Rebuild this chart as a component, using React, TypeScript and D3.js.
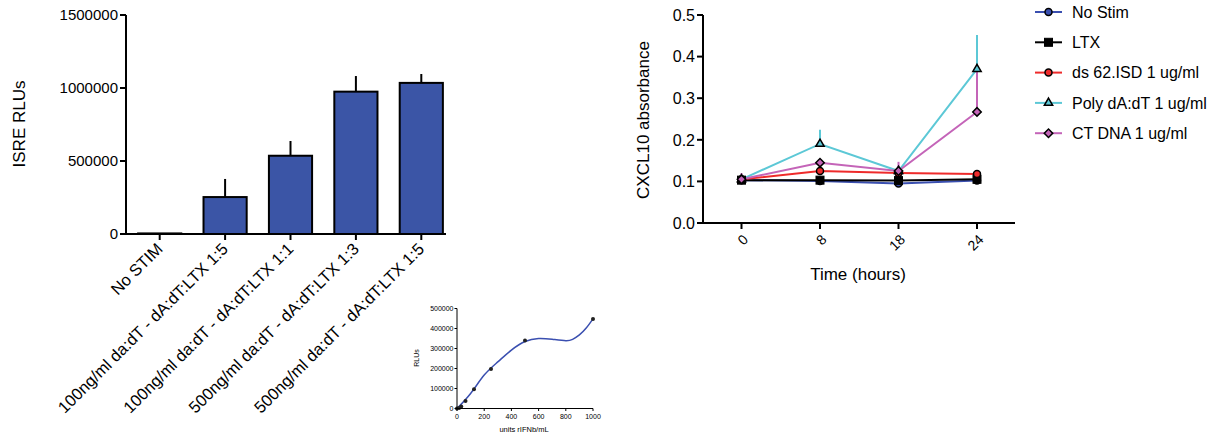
import React from "react";
import * as d3 from "d3";

// ---------- Chart 1: ISRE RLUs bar chart ----------
const barCategories = [
  "No STIM",
  "100ng/ml da:dT - dA:dT:LTX 1:5",
  "100ng/ml da:dT - dA:dT:LTX 1:1",
  "500ng/ml da:dT - dA:dT:LTX 1:3",
  "500ng/ml da:dT - dA:dT:LTX 1:5",
];
const barValues = [4000, 253000, 536000, 975000, 1035000];
const barErrorTops = [4000, 377000, 637000, 1082000, 1096000];
const barTicks = [0, 500000, 1000000, 1500000];

// ---------- Chart 2: CXCL10 absorbance ----------
const timeCategories = ["0", "8", "18", "24"];
const seriesNames = ["No Stim", "LTX", "ds 62.ISD 1 ug/ml", "Poly dA:dT 1 ug/ml", "CT DNA 1 ug/ml"];
const noStim = [0.103, 0.101, 0.095, 0.102];
const ltx = [0.103, 0.103, 0.102, 0.105];
const ds62 = [0.105, 0.125, 0.12, 0.118];
const polyDAdT = [0.105, 0.19, 0.125, 0.37];
const ctDNA = [0.105, 0.145, 0.125, 0.267];
const polyErrTop = [0.105, 0.224, 0.13, 0.452];
const ctErrTop = [0.12, 0.145, 0.147, 0.37];
const absTicks = [0.0, 0.1, 0.2, 0.3, 0.4, 0.5];

// ---------- Chart 3: standard curve ----------
const stdX = [0, 15.6, 31.25, 62.5, 125, 250, 500, 1000];
const stdY = [0, 3000, 10000, 38000, 96000, 198000, 340000, 448000];
const fitX = [0, 100, 200, 300, 400, 500, 600, 700, 800, 850, 900, 950, 1000];
const fitY = [0, 75000, 167000, 233000, 292000, 335000, 350000, 346000, 339000, 346000, 368000, 402000, 448000];
const stdXTicks = [0, 200, 400, 600, 800, 1000];
const stdYTicks = [0, 100000, 200000, 300000, 400000, 500000];

const FONT = "'Liberation Sans', Arial, Helvetica, sans-serif";
const BAR_BLUE = "#3B55A6";

function BarChart() {
  const x = d3.scaleBand<string>().domain(barCategories).range([127, 454]).paddingInner(0.34).paddingOuter(0.17);
  const y = d3.scaleLinear().domain([0, 1500000]).range([234, 15]);
  const axisX0 = 126;
  return (
    <g fontFamily={FONT}>
      {barCategories.map((c, i) => {
        const x0 = x(c)!;
        const cx = x0 + x.bandwidth() / 2;
        return (
          <g key={c}>
            <line x1={cx} x2={cx} y1={y(barValues[i])} y2={y(barErrorTops[i])} stroke="#000" strokeWidth={2} />
            <rect x={x0} y={y(barValues[i])} width={x.bandwidth()} height={y(0) - y(barValues[i])}
              fill={i === 0 ? "#fff" : BAR_BLUE} stroke="#000" strokeWidth={2} />
          </g>
        );
      })}
      <line x1={axisX0} x2={axisX0} y1={y(1500000)} y2={y(0) + 1} stroke="#000" strokeWidth={2} />
      <line x1={axisX0 - 1} x2={446} y1={y(0)} y2={y(0)} stroke="#000" strokeWidth={2} />
      {barTicks.map((t) => (
        <g key={t}>
          <line x1={axisX0 - 6} x2={axisX0} y1={y(t)} y2={y(t)} stroke="#000" strokeWidth={2} />
          <text x={axisX0 - 8} y={y(t)} dy="0.36em" textAnchor="end" fontSize={15} fill="#000">{t}</text>
        </g>
      ))}
      {barCategories.map((c) => {
        const cx = x(c)! + x.bandwidth() / 2;
        return (
          <g key={c}>
            <line x1={cx} x2={cx} y1={y(0)} y2={y(0) + 6} stroke="#000" strokeWidth={2} />
            <text transform={`translate(${cx + 4},${y(0) + 16}) rotate(-45)`} textAnchor="end" fontSize={16.5} fill="#000">{c}</text>
          </g>
        );
      })}
      <text transform={`translate(25,124) rotate(-90)`} textAnchor="middle" fontSize={17} fill="#000">ISRE RLUs</text>
    </g>
  );
}

function LineChart() {
  const x = d3.scalePoint<string>().domain(timeCategories).range([741.5, 977]);
  const y = d3.scaleLinear().domain([0, 0.5]).range([223, 15]);
  const colors = ["#3A4FB0", "#000000", "#EE2B2B", "#5CC8D6", "#C464B8"];
  const data = [noStim, ltx, ds62, polyDAdT, ctDNA];
  const shapes = ["circle", "square", "circle", "triangle", "diamond"];
  const fills = ["#3A4FB0", "#000000", "#EE2B2B", "#5CC8D6", "#C464B8"];
  const line = d3.line<number>().x((_, i) => x(timeCategories[i])!).y((v) => y(v));

  const marker = (shape: string, cx: number, cy: number, fill: string, key: string) => {
    if (shape === "circle") return <circle key={key} cx={cx} cy={cy} r={3.5} fill={fill} stroke="#000" strokeWidth={1.5} />;
    if (shape === "square") return <rect key={key} x={cx - 4} y={cy - 4} width={8} height={8} fill={fill} stroke="#000" strokeWidth={1} />;
    if (shape === "triangle") {
      const p = d3.symbol(d3.symbolTriangle, 30)();
      return <path key={key} d={p!} transform={`translate(${cx},${cy})`} fill={fill} stroke="#000" strokeWidth={1.5} />;
    }
    return <rect key={key} x={-3} y={-3} width={6} height={6} transform={`translate(${cx},${cy}) rotate(45)`} fill={fill} stroke="#000" strokeWidth={1.5} />;
  };

  return (
    <g fontFamily={FONT}>
      {polyErrTop.map((t, i) => (
        <line key={"pe" + i} x1={x(timeCategories[i])} x2={x(timeCategories[i])} y1={y(polyDAdT[i])} y2={y(t)} stroke={colors[3]} strokeWidth={2} />
      ))}
      {ctErrTop.map((t, i) => (
        <line key={"ce" + i} x1={x(timeCategories[i])} x2={x(timeCategories[i])} y1={y(ctDNA[i])} y2={y(t)} stroke={colors[4]} strokeWidth={2} />
      ))}
      {data.map((d, si) => (
        <path key={"l" + si} d={line(d)!} fill="none" stroke={colors[si]} strokeWidth={2} />
      ))}
      {data.map((d, si) =>
        d.map((v, i) => marker(shapes[si], x(timeCategories[i])!, y(v), fills[si], `m${si}-${i}`))
      )}
      <line x1={703} x2={703} y1={y(0.5)} y2={y(0) + 1} stroke="#000" strokeWidth={2} />
      <line x1={702} x2={1015} y1={y(0)} y2={y(0)} stroke="#000" strokeWidth={2} />
      {absTicks.map((t) => (
        <g key={t}>
          <line x1={697} x2={703} y1={y(t)} y2={y(t)} stroke="#000" strokeWidth={2} />
          <text x={695} y={y(t)} dy="0.36em" textAnchor="end" fontSize={16} fill="#000">{t.toFixed(1)}</text>
        </g>
      ))}
      {timeCategories.map((c) => (
        <g key={c}>
          <line x1={x(c)} x2={x(c)} y1={y(0)} y2={y(0) + 6} stroke="#000" strokeWidth={2} />
          <text transform={`translate(${x(c)! + 4},${y(0) + 14}) rotate(-45)`} textAnchor="end" dy="0.35em" fontSize={14} fill="#000">{c}</text>
        </g>
      ))}
      <text x={858} y={280} textAnchor="middle" fontSize={17} fill="#000">Time (hours)</text>
      <text transform={`translate(649,120) rotate(-90)`} textAnchor="middle" fontSize={17} fill="#000">CXCL10 absorbance</text>
      {seriesNames.map((n, i) => {
        const ly = 12 + i * 30.3;
        return (
          <g key={n}>
            <line x1={1035} x2={1062} y1={ly} y2={ly} stroke={colors[i]} strokeWidth={2} />
            {marker(shapes[i], 1048.5, ly, fills[i], "lg" + i)}
            <text x={1072} y={ly} dy="0.36em" fontSize={16} fill="#000">{n}</text>
          </g>
        );
      })}
    </g>
  );
}

function StdCurve() {
  const x = d3.scaleLinear().domain([0, 1000]).range([457, 593]);
  const y = d3.scaleLinear().domain([0, 500000]).range([408.5, 308.5]);
  const curve = d3.line<number>().x((_, i) => x(fitX[i])).y((v) => y(v)).curve(d3.curveNatural);
  return (
    <g fontFamily={FONT}>
      <path d={curve(fitY)!} fill="none" stroke="#3A4FB0" strokeWidth={1.5} />
      {stdX.map((v, i) => (
        <circle key={i} cx={x(v)} cy={y(stdY[i])} r={2} fill="#222" />
      ))}
      <line x1={457} x2={457} y1={308.5} y2={409} stroke="#000" strokeWidth={1} />
      <line x1={456.5} x2={593} y1={408.5} y2={408.5} stroke="#000" strokeWidth={1} />
      {stdYTicks.map((t) => (
        <g key={t}>
          <line x1={454.5} x2={457} y1={y(t)} y2={y(t)} stroke="#000" strokeWidth={1} />
          <text x={453.5} y={y(t)} dy="0.36em" textAnchor="end" fontSize={7} fill="#000">{t}</text>
        </g>
      ))}
      {stdXTicks.map((t) => (
        <g key={t}>
          <line x1={x(t)} x2={x(t)} y1={408.5} y2={411} stroke="#000" strokeWidth={1} />
          <text x={x(t)} y={419} textAnchor="middle" fontSize={7} fill="#000">{t}</text>
        </g>
      ))}
      <text transform={`translate(419,358) rotate(-90)`} textAnchor="middle" fontSize={7} fill="#000">RLUs</text>
      <text x={524} y={432} textAnchor="middle" fontSize={7.5} fill="#000">units rIFNb/mL</text>
    </g>
  );
}

export default function App() {
  return (
    <div style={{ position: "fixed", left: 0, top: 0, width: 1225, height: 435, background: "#fff" }}>
      <svg width={1225} height={435} style={{ display: "block" }}>
        <rect width={1225} height={435} fill="#fff" />
        <BarChart />
        <LineChart />
        <StdCurve />
      </svg>
    </div>
  );
}
